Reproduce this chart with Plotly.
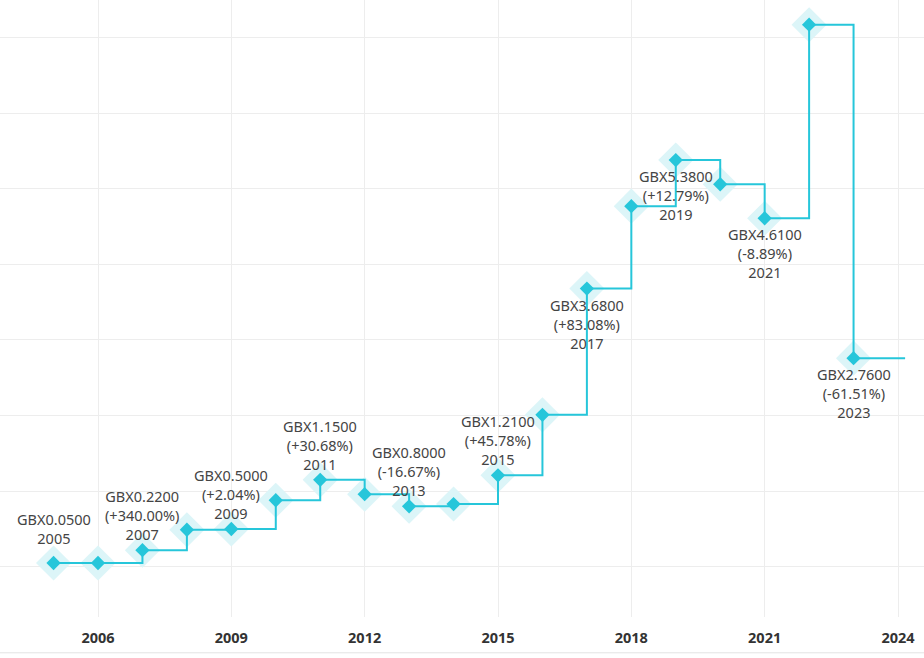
import plotly.graph_objects as go

years = [2005, 2006, 2007, 2008, 2009, 2010, 2011, 2012, 2013, 2014,
         2015, 2016, 2017, 2018, 2019, 2020, 2021, 2022, 2023]
prices = [0.05, 0.05, 0.22, 0.49, 0.50, 0.88, 1.15, 0.96, 0.80, 0.83,
          1.21, 2.01, 3.68, 4.77, 5.38, 5.06, 4.61, 7.17, 2.76]
# the step line carries on to the present at the last value
line_end_x = 2024.16

label_years = [2005, 2007, 2009, 2011, 2013, 2015, 2017, 2019, 2021, 2023]
label_texts = [
    "GBX0.0500<br>2005",
    "GBX0.2200<br>(+340.00%)<br>2007",
    "GBX0.5000<br>(+2.04%)<br>2009",
    "GBX1.1500<br>(+30.68%)<br>2011",
    "GBX0.8000<br>(-16.67%)<br>2013",
    "GBX1.2100<br>(+45.78%)<br>2015",
    "GBX3.6800<br>(+83.08%)<br>2017",
    "GBX5.3800<br>(+12.79%)<br>2019",
    "GBX4.6100<br>(-8.89%)<br>2021",
    "GBX2.7600<br>(-61.51%)<br>2023",
]
label_above = [True, True, True, True, True, True, False, False, False, False]

tick_vals = [2006, 2009, 2012, 2015, 2018, 2021, 2024]
tick_text = ["2006", "2009", "2012", "2015", "2018", "2021", "2024"]

CYAN = "#26c6da"
HALO = "#dcf5f8"

fig = go.Figure()
fig.add_trace(go.Scatter(
    x=years, y=prices, mode="markers",
    marker=dict(symbol="diamond", size=27, color=HALO, line=dict(width=0)),
    hoverinfo="skip", showlegend=False))
fig.add_trace(go.Scatter(
    x=years + [line_end_x], y=prices + [prices[-1]], mode="lines",
    line=dict(shape="hv", color=CYAN, width=2),
    hoverinfo="skip", showlegend=False))
fig.add_trace(go.Scatter(
    x=years, y=prices, mode="markers",
    marker=dict(symbol="diamond", size=11, color=CYAN, line=dict(width=0)),
    showlegend=False))

for yr, txt, above in zip(label_years, label_texts, label_above):
    val = prices[years.index(yr)]
    fig.add_annotation(
        x=yr, y=val, text=txt, showarrow=False,
        xanchor="center", yanchor="middle",
        yshift=35 if above else -35,
        font=dict(family="Noto Sans", size=14.5, color="#444444"),
        align="center")

fig.add_shape(type="line", xref="paper", yref="paper",
              x0=0, x1=1, y0=-0.058, y1=-0.058,
              line=dict(color="#e3e3e3", width=1))

fig.update_layout(
    width=924, height=658,
    margin=dict(l=0, r=0, t=0, b=41),
    paper_bgcolor="white", plot_bgcolor="white",
    xaxis=dict(range=[2003.795, 2024.585], tickvals=tick_vals, ticktext=tick_text,
               showgrid=True, gridcolor="#ededed", gridwidth=1,
               zeroline=False, showline=False,
               ticks="outside", ticklen=8, tickcolor="rgba(0,0,0,0)",
               tickfont=dict(family="Noto Sans", size=14.5, color="#333333", weight="bold")),
    yaxis=dict(range=[-0.664, 7.497], dtick=1, tick0=0,
               showgrid=True, gridcolor="#ededed", gridwidth=1,
               zeroline=False, showline=False, showticklabels=False),
)

fig.write_html("out.html", config={"displayModeBar": False},
               post_script="document.body.style.margin='0px';")
